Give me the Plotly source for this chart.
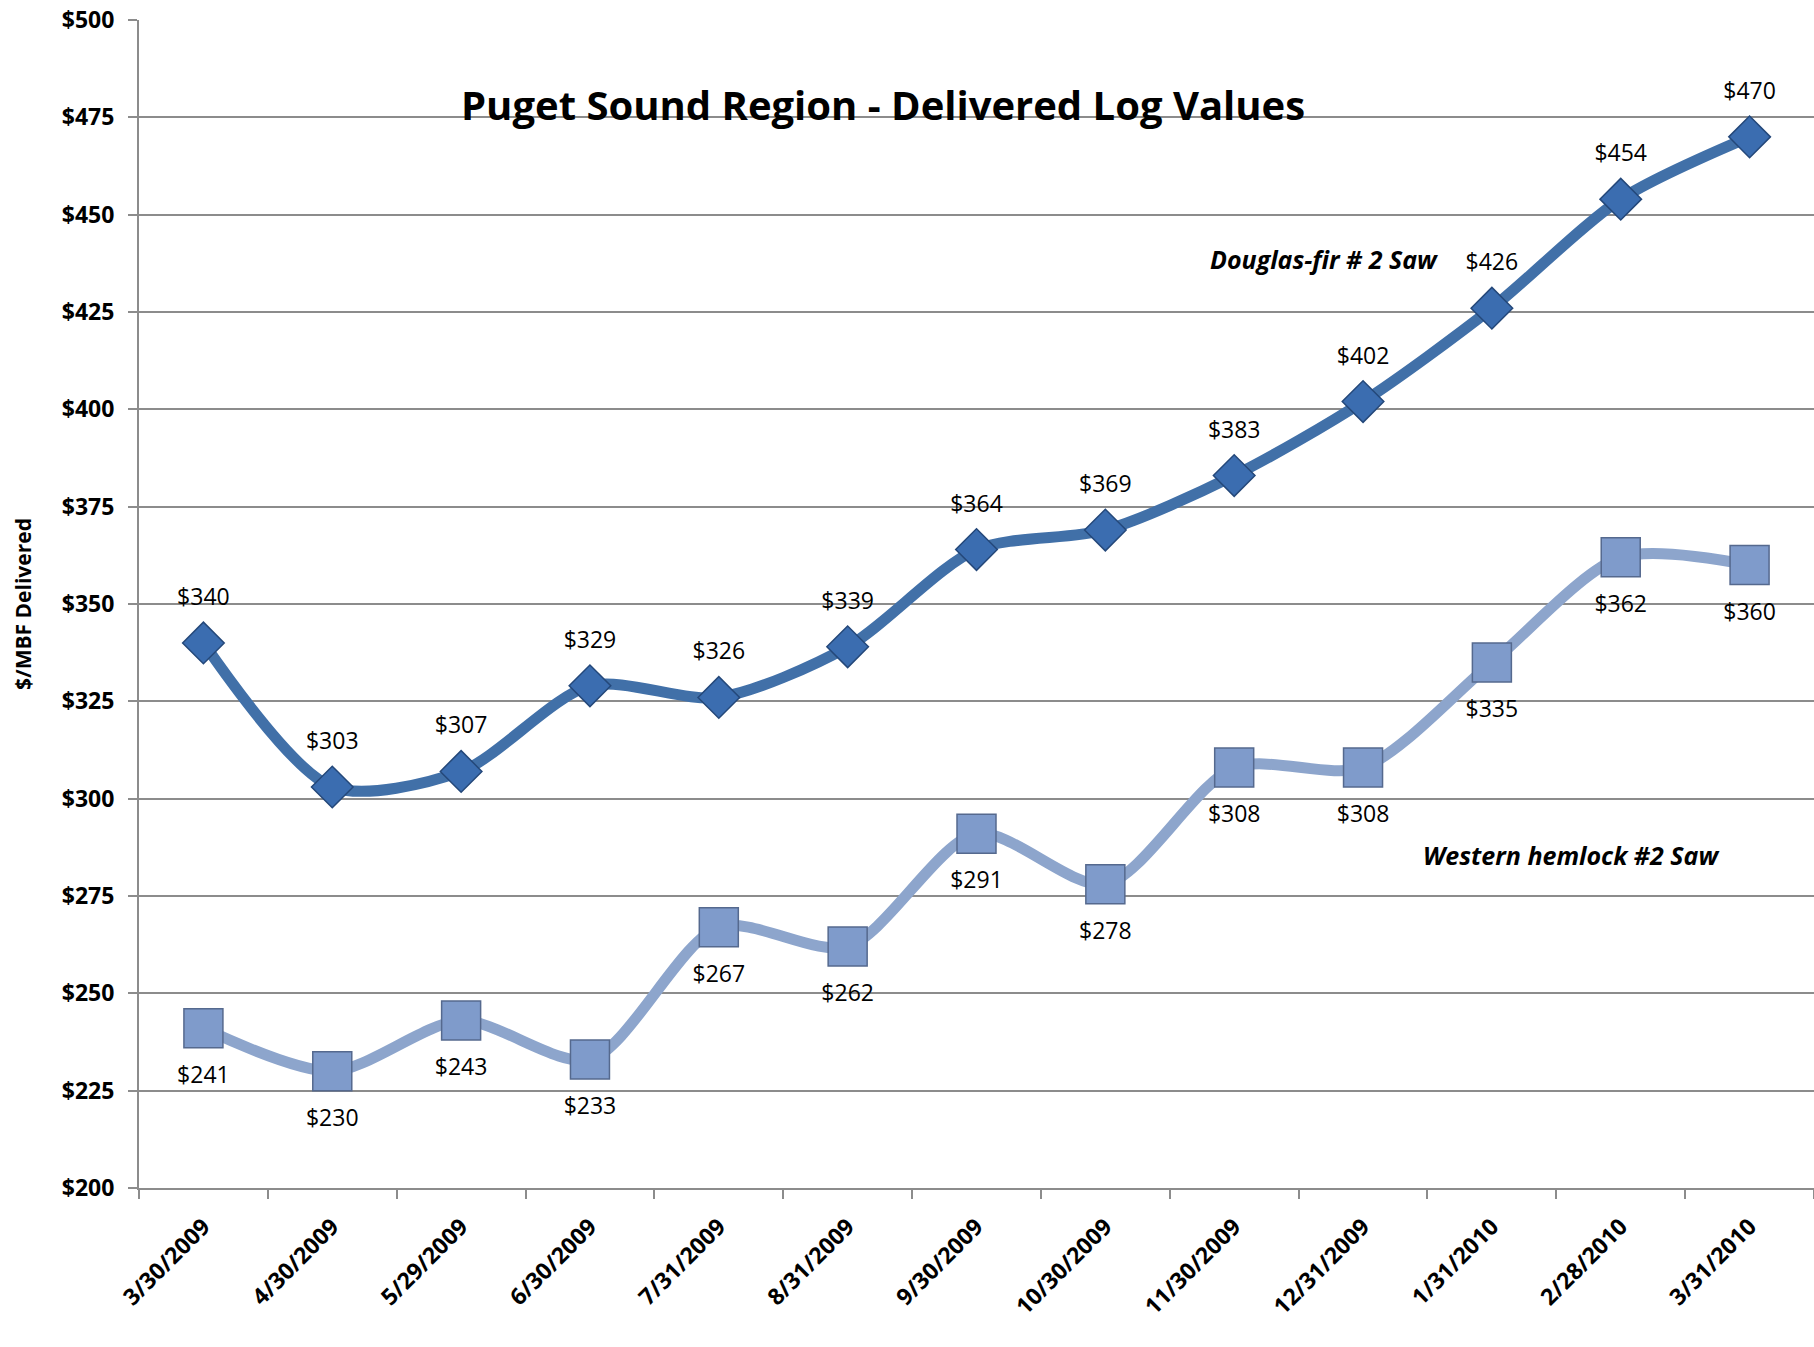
import plotly.graph_objects as go

# data
dates = ["3/30/2009", "4/30/2009", "5/29/2009", "6/30/2009", "7/31/2009", "8/31/2009",
         "9/30/2009", "10/30/2009", "11/30/2009", "12/31/2009", "1/31/2010", "2/28/2010", "3/31/2010"]
douglas_fir = [340, 303, 307, 329, 326, 339, 364, 369, 383, 402, 426, 454, 470]
western_hemlock = [241, 230, 243, 233, 267, 262, 291, 278, 308, 308, 335, 362, 360]

FONT = "Open Sans"
LABEL_FONT = dict(family=FONT, size=23, color="#000000")

fig = go.Figure()

# Douglas-fir line with diamond markers
fig.add_trace(go.Scatter(
    x=dates, y=douglas_fir, mode="lines+markers",
    line=dict(color="#4170A8", width=11, shape="spline", smoothing=0.8),
    marker=dict(symbol="diamond", size=32, color="#3B6DB0",
                line=dict(color="#24487A", width=1.5)),
    name="Douglas-fir # 2 Saw", showlegend=False))

# Western hemlock line with square markers
fig.add_trace(go.Scatter(
    x=dates, y=western_hemlock, mode="lines+markers",
    line=dict(color="#8DA5CC", width=11, shape="spline", smoothing=0.8),
    marker=dict(symbol="square", size=39, color="#7F9BCB",
                line=dict(color="#55698E", width=1.5)),
    name="Western hemlock #2 Saw", showlegend=False))

# data labels: invisible bigger markers push the text further from the points
fig.add_trace(go.Scatter(
    x=dates, y=douglas_fir, mode="markers+text",
    marker=dict(size=50, opacity=0),
    text=["$" + str(v) for v in douglas_fir], textposition="top center",
    textfont=LABEL_FONT, hoverinfo="skip", showlegend=False))

fig.add_trace(go.Scatter(
    x=dates, y=western_hemlock, mode="markers+text",
    marker=dict(size=58, opacity=0),
    text=["$" + str(v) for v in western_hemlock], textposition="bottom center",
    textfont=LABEL_FONT, hoverinfo="skip", showlegend=False))

fig.update_layout(
    width=1814, height=1347,
    margin=dict(l=139, r=0, t=20, b=159),
    paper_bgcolor="white", plot_bgcolor="white",
    font=dict(family=FONT, color="#000000"),
    annotations=[
        dict(text="<b>Puget Sound Region - Delivered Log Values</b>", x=0.444, y=0.928,
             xref="paper", yref="paper", xanchor="center", yanchor="middle", showarrow=False,
             font=dict(family=FONT, size=40, color="#000000")),
        dict(text="<b><i>Douglas-fir # 2 Saw</i></b>", x=0.7075, y=0.795,
             xref="paper", yref="paper", xanchor="center", yanchor="middle", showarrow=False,
             font=dict(family=FONT, size=25, color="#000000")),
        dict(text="<b><i>Western hemlock #2 Saw</i></b>", x=0.855, y=0.285,
             xref="paper", yref="paper", xanchor="center", yanchor="middle", showarrow=False,
             font=dict(family=FONT, size=25, color="#000000")),
        dict(text="<b>$/MBF Delivered</b>", x=-116 / 1675, y=0.5, xref="paper", yref="paper",
             xanchor="center", yanchor="middle", showarrow=False, textangle=-90,
             font=dict(family=FONT, size=21, color="#000000")),
    ],
)

fig.update_yaxes(
    range=[199.99, 500.02], tick0=200, dtick=25, tickprefix="$", automargin=False,
    showgrid=True, gridcolor="#8C8C8C", gridwidth=2,
    showline=True, linecolor="#8C8C8C", linewidth=2,
    ticks="outside", ticklen=9, tickcolor="#8C8C8C", tickwidth=2,
    ticklabelstandoff=9, ticklabeloverflow="allow",
    tickfont=dict(family=FONT, size=23, color="#000000", weight="bold"),
    zeroline=False)

fig.update_xaxes(
    type="category", tickangle=-45, tickson="boundaries", automargin=False,
    showgrid=False, showline=True, linecolor="#8C8C8C", linewidth=2,
    ticks="outside", ticklen=9, tickcolor="#8C8C8C", tickwidth=2,
    ticklabelstandoff=14, ticklabeloverflow="allow",
    tickfont=dict(family=FONT, size=23, color="#000000", weight="bold"),
    range=[-0.5, 12.5])

# drop the page's default 8px body margin so the figure sits at the top-left corner
fig.write_html("out.html", config={"displayModeBar": False},
               post_script="document.body.style.margin = '0';")
